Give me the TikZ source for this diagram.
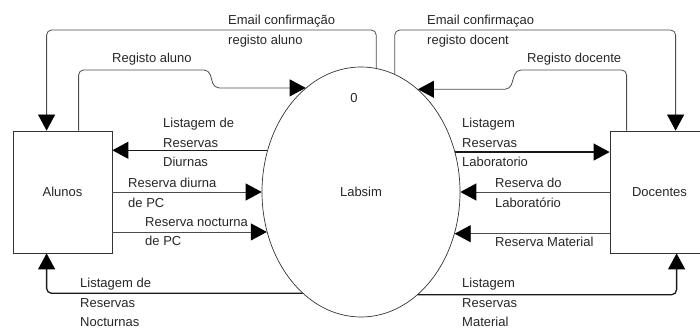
\documentclass[tikz,border=0pt]{standalone}
\usepackage{fontspec}
\setmainfont{Liberation Sans}
\usetikzlibrary{arrows.meta,shapes.geometric}

\tikzset{
  txt/.style={font=\fontsize{13}{19.5}\selectfont, text=black!85},
  lbl/.style={txt, anchor=north west, inner sep=0pt, align=left},
  entity/.style={txt, draw=black!80, line width=0.8pt, minimum width=99pt,
    minimum height=122pt, inner sep=0pt},
  process/.style={txt, ellipse, draw=black!80, line width=0.7pt,
    minimum width=198pt, minimum height=250pt, inner sep=0pt},
  flow/.style={draw=black!70, line width=0.8pt, rounded corners=5pt,
    -{Triangle[length=16pt,width=17pt,color=black]}},
  listflow/.style={flow, draw=black!90, line width=1.3pt}
}

\begin{document}
\begin{tikzpicture}[x=1pt,y=-1pt]
\clip (0,0) rectangle (700,336);

% external entities and the process
\node[entity] (alunos) at (62.5,192) {Alunos};
\node[entity] (docentes) at (659.5,192) {Docentes};
\node[process] (labsim) at (361,192) {Labsim};
\node[txt, inner sep=0pt] (procid) at (354,98) {0};

% horizontal rails used by the routed flows
\coordinate (topRail) at (0,30);
\coordinate (midRail) at (0,70);

% attachment points on the entity boxes
\coordinate (aEmail) at ([xshift=34pt]alunos.north west);
\coordinate (aReg)   at ([xshift=66pt]alunos.north west);
\coordinate (aList)  at ([xshift=34pt]alunos.south west);
\coordinate (dEmail) at ([xshift=66pt]docentes.north west);
\coordinate (dReg)   at ([xshift=17pt]docentes.north west);
\coordinate (dList)  at ([xshift=67pt]docentes.south west);

% flows above the process
\draw[flow] (labsim.83.1) |- (aEmail |- topRail) -- (aEmail);
\draw[flow] (labsim.74.9) |- (dEmail |- topRail) -- (dEmail);
\draw[flow] (aReg) -- (aReg |- midRail) -- (209,70)
  -- (214,0 |- labsim.118.6) -- (labsim.118.6);
\draw[flow] (dReg) -- (dReg |- midRail) -- (516,70)
  -- (510,0 |- labsim.61.4) -- (labsim.61.4);

% flows between the entities and the process
\draw[listflow] (labsim.156.9) -- (alunos.east |- labsim.156.9);
\draw[flow] (alunos.east) -- (labsim.180);
\draw[flow] (alunos.east |- labsim.203.1) -- (labsim.203.1);
\draw[listflow] (labsim.23.1) -- (docentes.west |- labsim.23.1);
\draw[flow] (docentes.west) -- (labsim.0);
\draw[flow] (docentes.west |- labsim.336.9) -- (labsim.336.9);

% flows below the process
\draw[listflow] (labsim.240.7) -- (aList |- labsim.240.7) -- (aList);
\draw[listflow] (labsim.299.3) -- (dList |- labsim.299.3) -- (dList);

% flow labels
\node[lbl] (lEmailA) at (228,15) {Email confirmação\\registo aluno};
\node[lbl] (lEmailD) at (427,15) {Email confirmaçao\\registo docent};
\node[lbl] (lRegA) at (112,53) {Registo aluno};
\node[lbl] (lRegD) at (527,53) {Registo docente};
\node[lbl] (lListD) at (163,118) {Listagem de\\Reservas\\Diurnas};
\node[lbl] (lListL) at (462,118) {Listagem\\Reservas\\Laboratorio};
\node[lbl] (lResD) at (128,178) {Reserva diurna\\de PC};
\node[lbl] (lResN) at (145,217) {Reserva nocturna\\de PC};
\node[lbl] (lResL) at (495,178) {Reserva do\\Laboratório};
\node[lbl] (lResM) at (495,237) {Reserva Material};
\node[lbl] (lListN) at (80,278) {Listagem de\\Reservas\\Nocturnas};
\node[lbl] (lListM) at (462,278) {Listagem\\Reservas\\Material};
\end{tikzpicture}
\end{document}
